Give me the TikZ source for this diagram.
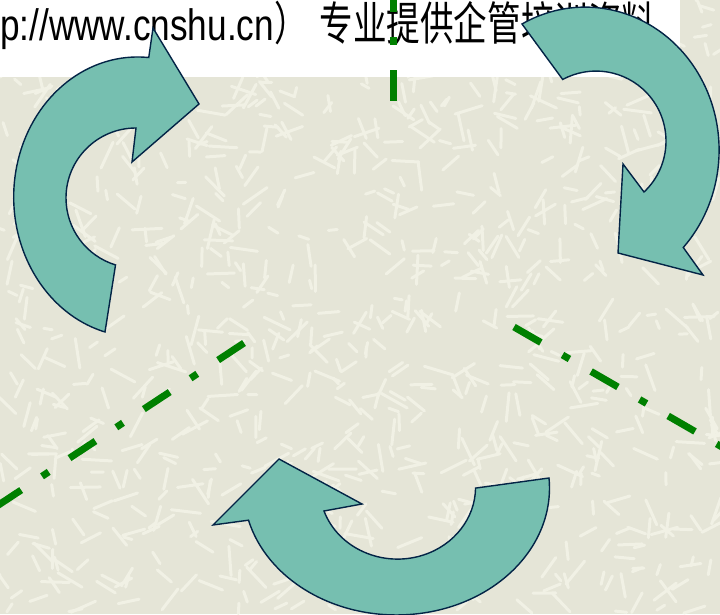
\documentclass[tikz,border=0pt]{standalone}
\usepackage{fontspec}
\setmainfont{Liberation Sans}[FakeStretch=0.80]
\newfontfamily\cjk{Noto Sans CJK SC}[FakeStretch=0.73]
\definecolor{paper}{RGB}{229,229,215}
\definecolor{fibre}{RGB}{241,241,229}
\definecolor{arrowfill}{RGB}{118,191,176}
\definecolor{arrowline}{RGB}{3,36,70}
\definecolor{chaingreen}{RGB}{0,128,0}
\begin{document}
\begin{tikzpicture}[x=1pt,y=1pt]
\tikzstyle{cyclearrow} = [fill=arrowfill, draw=arrowline, line width=1.4pt, line join=miter]
\tikzstyle{chainline} = [chaingreen, line width=7pt, dash pattern=on 31pt off 25pt on 8pt off 25pt]
\tikzstyle{fibrestroke} = [fibre, line width=3pt, line cap=round]
\clip (0,0) rectangle (720,614);

% Background texture
\fill[paper] (0,0) rectangle (720,614);
\pgfmathsetseed{11}
\foreach \i in {1,...,950}{
  \pgfmathsetmacro\fx{720*rnd}
  \pgfmathsetmacro\fy{614*rnd}
  \pgfmathsetmacro\fa{180*rnd}
  \pgfmathsetmacro\fl{8+22*rnd}
  \draw[fibrestroke] (\fx,\fy) -- ++(\fa:\fl);
}

% Banner
\fill[white] (0,537) rectangle (680,614);
\node[anchor=base west, inner sep=0pt, font=\fontsize{44}{44}\selectfont] (banner) at (0,573)
  {p://www.cnshu.cn{\cjk\fontsize{46}{46}\selectfont ）\hspace{12pt}专业提供企管培训资料}};

% Dash-dot rays
\coordinate (rayN) at (393.5,513);
\coordinate (rayNend) at (393.5,640);
\coordinate (raySW) at (244,271);
\coordinate (raySWend) at (-50,77);
\coordinate (raySE) at (514,287);
\coordinate (raySEend) at (780,133.5);
\draw[chainline] (rayN) -- (rayNend);
\draw[chainline] (raySW) -- (raySWend);
\draw[chainline] (raySE) -- (raySEend);

% Curved arrows
\draw[cyclearrow] (105,282) arc[x radius=124, y radius=140, start angle=254.7, end angle=84.9]
  -- (153,586) -- (199,510) -- (132,452) -- (136,486)
  arc[radius=70, start angle=90, end angle=253] -- cycle;
\draw[cyclearrow] (522,590) arc[x radius=134, y radius=143, start angle=118.1, end angle=-42.9]
  -- (703,339) -- (618,361) -- (623,450) -- (644,422)
  arc[radius=70, start angle=-46.7, end angle=118.4] -- cycle;
\draw[cyclearrow] (549,136) arc[x radius=153, y radius=127, start angle=4.5, end angle=-165.3]
  -- (213,89) -- (279,155) -- (362,110) -- (324,103)
  arc[x radius=78, y radius=72, start angle=199.4, end angle=359.2] -- cycle;
\end{tikzpicture}
\end{document}
